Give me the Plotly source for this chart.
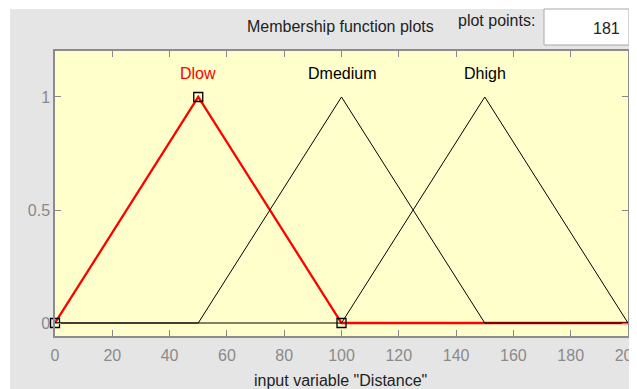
import plotly.graph_objects as go

# ---- data ----
x_range = [0, 200]
y_range = [-0.0575, 1.2035]
mf_names = ["Dlow", "Dmedium", "Dhigh"]
mf_params = [[0, 50, 100], [50, 100, 150], [100, 150, 200]]
mf_colors = ["red", "black", "black"]
selected = 0
x_ticks = [0, 20, 40, 60, 80, 100, 120, 140, 160, 180, 200]
y_ticks = [0, 0.5, 1]
y_tick_labels = ["0", "0.5", "1"]
plot_points = 181
title_text = "Membership function plots"
x_label = 'input variable "Distance"'

FONT = "Liberation Sans, Arial, sans-serif"
FS = 16

# page offset (body margin) and plot area in page pixels
OFF = 8
PW_, PH_ = 637, 389
W, H = PW_ - OFF, PH_ - OFF
L, R, T, B = 55, 628, 51, 336
pw, ph = R - L, B - T
def px(x):
    return (x - L) / pw
def py(y):
    return (B - y) / ph

fig = go.Figure()

def mf_xy(p):
    a, b, c = p
    return [x_range[0], a, b, c, x_range[1]], [0, 0, 1, 0, 0]

# selected (red, thick) first
xs, ys = mf_xy(mf_params[selected])
fig.add_trace(go.Scatter(x=xs, y=ys, mode="lines",
                         line=dict(color="red", width=2.3), hoverinfo="skip"))
for i, p in enumerate(mf_params):
    if i == selected:
        continue
    xs, ys = mf_xy(p)
    fig.add_trace(go.Scatter(x=xs, y=ys, mode="lines",
                             line=dict(color="black", width=1), hoverinfo="skip"))

# vertex markers of selected MF
a, b, c = mf_params[selected]
fig.add_trace(go.Scatter(x=[a, b, c], y=[0, 1, 0], mode="markers",
                         marker=dict(symbol="square-open", size=9,
                                     color="black", line=dict(width=1.3)),
                         cliponaxis=False, hoverinfo="skip"))

annotations = []
for i, (name, p) in enumerate(zip(mf_names, mf_params)):
    annotations.append(dict(x=p[1], y=1.106, xref="x", yref="y", text=name,
                            showarrow=False, xanchor="center", yanchor="middle",
                            font=dict(family=FONT, size=FS, color=mf_colors[i])))

annotations += [
    dict(x=px(340), y=py(27), xref="paper", yref="paper", text=title_text,
         showarrow=False, xanchor="center", yanchor="middle",
         font=dict(family=FONT, size=FS, color="#222222")),
    dict(x=px(496), y=py(21), xref="paper", yref="paper", text="plot points:",
         showarrow=False, xanchor="center", yanchor="middle",
         font=dict(family=FONT, size=FS, color="#222222")),
    dict(x=px(622), y=py(29), xref="paper", yref="paper", text=str(plot_points),
         xanchor="right", yanchor="middle", showarrow=False,
         font=dict(family=FONT, size=FS, color="#222222")),
    dict(x=px(340), y=py(380), xref="paper", yref="paper", text=x_label,
         showarrow=False, xanchor="center", yanchor="middle",
         font=dict(family=FONT, size=FS, color="#222222")),
]

shapes = [
    dict(type="rect", xref="paper", yref="paper", layer="below",
         x0=px(10), x1=px(PW_ + 5), y0=py(PH_ + 5), y1=py(9),
         fillcolor="#e5e5e5", line=dict(width=0)),
    dict(type="rect", xref="paper", yref="paper", layer="below",
         x0=0, x1=1, y0=0, y1=1,
         fillcolor="#ffffcc", line=dict(width=0)),
    dict(type="rect", xref="paper", yref="paper", layer="above",
         x0=px(544), x1=px(629), y0=py(45), y1=py(9),
         fillcolor="white", line=dict(color="#a8a8a8", width=1)),
]

fig.update_layout(
    width=W, height=H,
    margin=dict(l=L - OFF, r=W - (R - OFF), t=T - OFF, b=H - (B - OFF),
                autoexpand=False),
    paper_bgcolor="white",
    plot_bgcolor="#ffffcc",
    showlegend=False,
    annotations=annotations,
    shapes=shapes,
    xaxis=dict(range=x_range, tickvals=x_ticks, ticks="inside", ticklen=6,
               tickcolor="#888888", showline=True, linecolor="#8c8c8c",
               linewidth=1.5, mirror="ticks", showgrid=False, zeroline=False,
               ticklabelstandoff=4, ticklabeloverflow="allow", automargin=False,
               tickfont=dict(family=FONT, size=FS, color="#8a8a8a")),
    yaxis=dict(range=y_range, tickvals=y_ticks, ticktext=y_tick_labels,
               ticks="inside", ticklen=6, tickcolor="#888888",
               showline=True, linecolor="#8c8c8c", linewidth=1.5,
               mirror="ticks", showgrid=False, zeroline=False,
               ticklabeloverflow="allow", automargin=False,
               tickfont=dict(family=FONT, size=FS, color="#8a8a8a")),
)

fig.write_html("out.html")
